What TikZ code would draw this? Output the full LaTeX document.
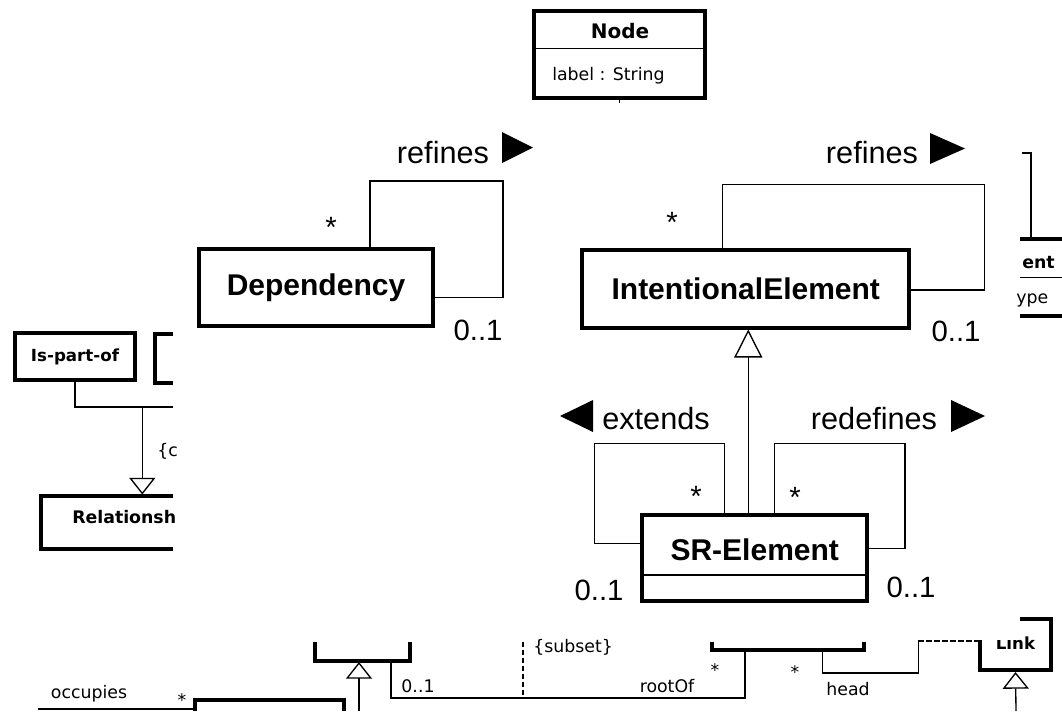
\documentclass[tikz,border=0pt]{standalone}
\usepackage{fontspec}
\setmainfont{Liberation Sans}
\newfontfamily\dejavu{DejaVu Sans}
\usetikzlibrary{arrows.meta}
\tikzstyle{cls} = [draw, rectangle, line width=3pt, inner sep=0pt,
    font=\fontsize{22.5}{26}\selectfont\bfseries]
\tikzstyle{smallcls} = [draw, rectangle, line width=3pt, inner sep=0pt,
    font=\dejavu\fontsize{12.5}{15}\selectfont\bfseries]
\tikzstyle{clsname} = [inner sep=0pt, anchor=base,
    font=\fontsize{22.5}{26}\selectfont\bfseries]
\tikzstyle{frag} = [line width=3pt]
\tikzstyle{assoc} = [line width=1pt]
\tikzstyle{gen} = [line width=1pt, -{Triangle[open, length=12.5pt, width=19.5pt]}]
\tikzstyle{biggen} = [line width=1pt, -{Triangle[open, length=21pt, width=21pt]}]
\tikzstyle{subsetline} = [line width=1.5pt, dash pattern=on 4pt off 2pt]
\tikzstyle{dashedline} = [line width=1pt, dash pattern=on 4pt off 2pt]
\tikzstyle{role} = [inner sep=0pt, anchor=base, font=\fontsize{23}{27}\selectfont]
\tikzstyle{mult} = [inner sep=0pt, anchor=base, font=\fontsize{22}{26}\selectfont]
\tikzstyle{lbl} = [inner sep=0pt, anchor=base, font=\dejavu\fontsize{13}{15}\selectfont]
\tikzstyle{lblbold} = [lbl, font=\dejavu\fontsize{13}{15}\selectfont\bfseries]

\begin{document}
\begin{tikzpicture}[x=0.75pt, y=-0.75pt]
    \useasboundingbox (0,0) rectangle (1062,711);

    % Place the classes
    \node [cls, minimum width=128.25pt, minimum height=65.25pt] (nodecls) at (619.5,54.5) {};
    \node [lblbold, font=\dejavu\fontsize{15}{18}\selectfont\bfseries] (nodename) at (620,38) {Node};
    \node [lbl, anchor=base west] (nodeattr) at (552,80) {label : String};
    \node [cls, minimum width=175.5pt, minimum height=57.4pt] (dep) at (316,287.3) {Dependency};
    \node [cls, minimum width=245.6pt, minimum height=58.5pt] (ie) at (745.75,288.5) {IntentionalElement};
    \node [cls, minimum width=168.4pt, minimum height=64.5pt] (sr) at (754.75,557.5) {};
    \node [clsname] (srname) at (754.75,560) {SR-Element};
    \draw [assoc] ([yshift=4.5pt]nodecls.west) -- ([yshift=4.5pt]nodecls.east);
    \draw [assoc] ([shift={(0,17.5)}]sr.west) -- ([shift={(0,17.5)}]sr.east);
    \draw [assoc] (nodecls.south) -- ++(0,3);

    % Self associations
    \draw [assoc] ([shift={(54,0)}]dep.north) |- ++(133,-66) |- ([shift={(0,10)}]dep.east);
    \draw [assoc] ([shift={(-23.5,0)}]ie.north) |- ++(262,-63) |- ([shift={(0,1.5)}]ie.east);
    \draw [assoc] ([shift={(-30.5,0)}]sr.north) |- ++(-130,-69) |- ([shift={(0,-14)}]sr.west);
    \draw [assoc] ([shift={(19.5,0)}]sr.north) |- ++(130.7,-69) |- ([shift={(0,-9)}]sr.east);
    \draw [biggen] ([shift={(-6.5,0)}]sr.north) -- ([shift={(2.5,0)}]ie.south);

    % Roles and multiplicities
    \node [role] (refdep) at (443,163) {refines};
    \fill (502,132) -- (533,147.5) -- (502,163) -- cycle;
    \node [role] (refie) at (872,163) {refines};
    \fill (930,133) -- (965,148.5) -- (930,164) -- cycle;
    \node [role] (ext) at (656,429) {extends};
    \fill (593,400) -- (560,416) -- (593,432) -- cycle;
    \node [role] (redef) at (874,429) {redefines};
    \fill (951,400) -- (985,416) -- (951,432) -- cycle;
    \node [mult] (depmany) at (331,237) {*};
    \node [mult] (depone) at (478,340) {0..1};
    \node [mult] (iemany) at (672,232) {*};
    \node [mult] (ieone) at (956,341) {0..1};
    \node [mult] (extmany) at (696,506) {*};
    \node [mult] (extone) at (599,600) {0..1};
    \node [mult] (redefmany) at (795,507) {*};
    \node [mult] (redefone) at (911,597) {0..1};

    % Left part
    \node [smallcls, minimum width=90pt, minimum height=35.6pt] (ispart) at (75,356.75) {Is-part-of};
    \draw [frag] (173,333.5) -| (155,382.5) -- (173,382.5);
    \coordinate (split) at (142.3,407);
    \coordinate (reltop) at (142.3,494.5);
    \draw [assoc] (ispart.south) |- (173,407);
    \draw [gen] (split) -- (reltop);
    \draw [frag] (173,496) -| (41,549) -- (173,549);
    \node [lblbold, anchor=base west] (relname) at (72,523) {Relationsh};
    \node [lbl, anchor=base west] (gencons) at (157,456) {\{c};

    % Right part
    \draw [assoc] (1022,153) -| (1031,239);
    \draw [frag] (1020,239) -- (1062,239);
    \draw [assoc] (1020,277.5) -- (1062,277.5);
    \draw [frag] (1020,316) -- (1062,316);
    \node [lblbold, anchor=base west] (entname) at (1022,268) {ent};
    \node [lbl, anchor=base west] (entattr) at (1016,303) {ype};

    % Bottom part
    \draw [frag] (314.5,642) |- (409.5,660.5) -- (409.5,642);
    \draw [gen] (359,711) -- (359,662);
    \draw [frag] (712,642) |- (864,649.5) -- (864,642);
    \draw [assoc] (391,662) |- (745,698) -- (745,651);
    \draw [subsetline] (523.3,642) -- (523.3,698);
    \node [lbl, anchor=base west] (subset) at (533,652) {\{subset\}};
    \node [lbl] (rootone) at (418,692) {0..1};
    \node [lbl] (rootof) at (667,692) {rootOf};
    \node [lbl] (rootmany) at (715,676) {*};
    \node [smallcls, minimum width=53.25pt, minimum height=37.9pt] (link) at (1015.5,644.75) {\raisebox{3pt}{Link}};
    \draw [assoc] (822.7,651) |- (918.3,673) -- (918.3,641);
    \draw [dashedline] (918.3,641) -- (978.5,641);
    \fill [white] (930,600) rectangle (1020,639.5);
    \node [lbl] (headmany) at (795,678) {*};
    \node [lbl] (head) at (848,695) {head};
    \draw [gen] (1016,711) -- (link.south);
    \node [lbl] (occupies) at (89,698) {occupies};
    \node [lbl] (occmany) at (182,706) {*};
    \draw [assoc] (38,709) -- (195,709);
    \draw [frag] (195,711) |- (344,700) -- (344,711);
\end{tikzpicture}
\end{document}
